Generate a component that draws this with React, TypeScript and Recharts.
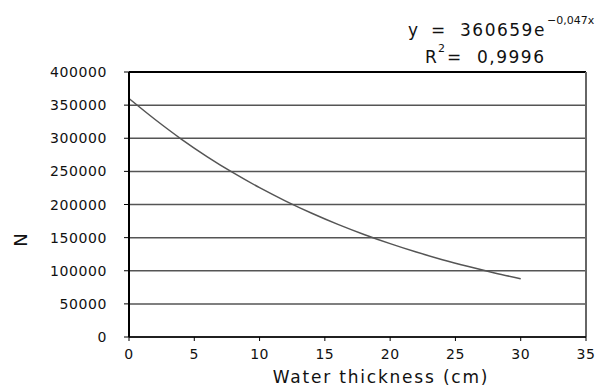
import React from 'react';
import { LineChart, Line, XAxis, YAxis, CartesianGrid, ReferenceLine } from 'recharts';

// values
const thickness = [0, 2, 4, 6, 8, 10, 12, 14, 16, 18, 20, 22, 24, 26, 28, 30];
const counts = [360000, 328300, 298800, 272000, 247600, 225400, 205200, 186800, 170000, 154800, 140900, 128200, 116700, 106300, 96700, 88000];
const xTicks = [0, 5, 10, 15, 20, 25, 30, 35];
const yTicks = [0, 50000, 100000, 150000, 200000, 250000, 300000, 350000, 400000];

const FONT = '"DejaVu Sans", sans-serif';

function XTick(props: any) {
  const { x, y, payload } = props;
  return (
    <text x={x} y={y + 14} textAnchor="middle" fill="#111" fontSize={14} fontFamily={FONT} letterSpacing={0.5}>
      {payload.value}
    </text>
  );
}

function YTick(props: any) {
  const { x, y, payload } = props;
  return (
    <text x={x - 5} y={y + 5} textAnchor="end" fill="#111" fontSize={14} fontFamily={FONT} letterSpacing={0.6}>
      {payload.value}
    </text>
  );
}

export default function App() {
  const data = thickness.map((x, i) => ({ x, n: counts[i] }));

  return (
    <div style={{ position: 'absolute', left: 0, top: 0, width: 599, height: 386, background: '#fff' }}>
      <LineChart
        width={599}
        height={386}
        data={data}
        margin={{ top: 72, right: 13, bottom: 0, left: 0 }}
      >
        <CartesianGrid vertical={false} stroke="#555" strokeWidth={1.5} />
        <XAxis
          dataKey="x"
          type="number"
          domain={[0, 35]}
          ticks={xTicks}
          height={49}
          axisLine={{ stroke: '#000', strokeWidth: 1.5 }}
          tickLine={{ stroke: '#000' }}
          tickSize={4}
          tickMargin={4}
          tick={<XTick />}
        />
        <YAxis
          type="number"
          domain={[0, 400000]}
          ticks={yTicks}
          width={129}
          axisLine={{ stroke: '#000', strokeWidth: 2 }}
          tickLine={{ stroke: '#000' }}
          tickSize={5}
          tickMargin={12}
          tick={<YTick />}
        />
        <ReferenceLine y={400000} stroke="#000" strokeWidth={2} />
        <ReferenceLine x={35} stroke="#666" strokeWidth={2} />
        <Line
          type="monotone"
          dataKey="n"
          stroke="#555"
          strokeWidth={1.5}
          dot={false}
          isAnimationActive={false}
        />
      </LineChart>
      <svg width={599} height={386} style={{ position: 'absolute', left: 0, top: 0, pointerEvents: 'none' }}>
        <g fill="#111" fontFamily={FONT}>
          <text x={381} y={383} fontSize={17} textAnchor="middle" letterSpacing={1.8}>Water thickness (cm)</text>
          <text x={20} y={240} fontSize={18} textAnchor="middle" dominantBaseline="central" transform="rotate(-90 20 240)">N</text>
          <text x={408} y={36} fontSize={17}>y</text>
          <text x={431} y={36} fontSize={17}>=</text>
          <text x={460} y={36} fontSize={17} letterSpacing={1.5}>360659e</text>
          <text x={547} y={24} fontSize={11}>−0,047x</text>
          <text x={425} y={63} fontSize={17}>R</text>
          <text x={438} y={52} fontSize={11}>2</text>
          <text x={447} y={63} fontSize={17}>=</text>
          <text x={477} y={63} fontSize={17} letterSpacing={1.5}>0,9996</text>
        </g>
      </svg>
    </div>
  );
}
